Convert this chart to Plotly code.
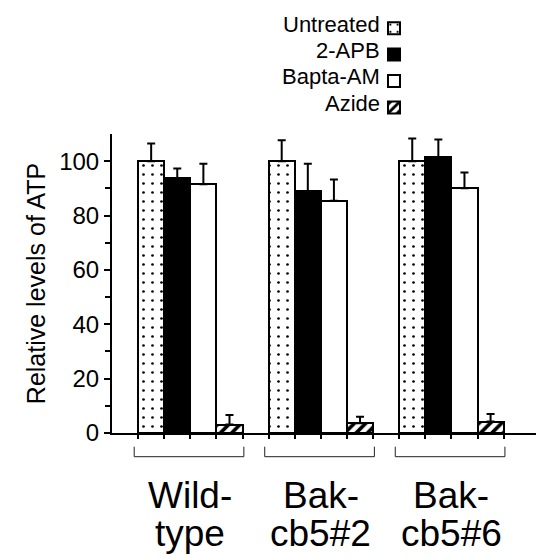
import plotly.graph_objects as go

# ---- data ----
groups = ["Wild-type", "Bak-cb5#2", "Bak-cb5#6"]
group_label_lines = [["Wild-", "type"], ["Bak-", "cb5#2"], ["Bak-", "cb5#6"]]
treatments = ["Untreated", "2-APB", "Bapta-AM", "Azide"]

untreated = [100, 100, 100]
untreated_err = [6.5, 7.7, 8.3]
apb = [93.7, 89.0, 101.4]
apb_err = [3.6, 10.1, 6.6]
bapta = [91.5, 85.4, 90.0]
bapta_err = [7.6, 7.9, 5.8]
azide = [3.1, 3.6, 4.2]
azide_err = [3.5, 2.4, 2.8]

y_ticks = [0, 20, 40, 60, 80, 100]
y_minor = [10, 30, 50, 70, 90]

values = [untreated, apb, bapta, azide]
errors = [untreated_err, apb_err, bapta_err, azide_err]

FONT = "Liberation Sans, Arial, Helvetica, sans-serif"
SLOTS = len(treatments) + 1  # one empty slot between groups

styles = [
    dict(color="white", pattern=dict(shape=".", fgcolor="black", bgcolor="white", fgopacity=1,
                                     size=9, solidity=0.07, fillmode="overlay")),
    dict(color="black"),
    dict(color="white"),
    dict(color="white", pattern=dict(shape="/", fgcolor="black", bgcolor="white", fgopacity=1,
                                     size=8, solidity=0.45, fillmode="overlay")),
]

fig = go.Figure()
for k, name in enumerate(treatments):
    xs = [SLOTS * g + k for g in range(len(groups))]
    marker = dict(line=dict(color="black", width=2), **styles[k])
    fig.add_trace(go.Bar(
        x=xs, y=values[k], name="", legendgroup=name,
        width=1, marker=marker,
        error_y=dict(type="data", array=errors[k], arrayminus=[0] * len(groups),
                     symmetric=False, color="black", thickness=2, width=4),
        showlegend=True, hoverinfo="skip",
    ))

n_slots_total = SLOTS * len(groups) - 1
x_edges = [i - 0.5 for i in range(n_slots_total + 1)]

# plot geometry (px)
L, R, T, B = 112, 0, 134, 127
W, H = 536, 560
pw, ph = W - L - R, H - T - B

def py(p):  # pixel y -> paper y
    return (H - B - p) / ph

def px(p):  # pixel x -> paper x
    return (p - L) / pw

fig.update_layout(
    width=W, height=H,
    margin=dict(l=L, r=R, t=T, b=B, autoexpand=False),
    paper_bgcolor="white", plot_bgcolor="white",
    barmode="overlay", bargap=0,
    font=dict(family=FONT, color="black"),
    showlegend=True,
    legend=dict(x=px(374), y=py(10), xanchor="left", yanchor="top",
                bgcolor="rgba(0,0,0,0)", font=dict(size=18, family=FONT),
                tracegroupgap=0, itemclick=False, itemdoubleclick=False),
    xaxis=dict(range=[-1.5, n_slots_total + 0.74], showline=True, linecolor="black", linewidth=2,
               tickvals=x_edges, ticks="outside", ticklen=4, tickwidth=1.5, tickcolor="black",
               showticklabels=False, showgrid=False, zeroline=False, fixedrange=True),
    yaxis=dict(range=[0, 110], showline=True, linecolor="black", linewidth=2,
               tickvals=y_ticks, ticks="outside", ticklen=6, tickwidth=1.5, tickcolor="black",
               tickfont=dict(size=24, family=FONT),
               minor=dict(tickvals=y_minor, ticks="outside", ticklen=5, tickwidth=1.5, tickcolor="black"),
               showgrid=False, zeroline=False, fixedrange=True,
               title=dict(text="Relative levels of ATP", font=dict(size=25, family=FONT), standoff=6)),
)

# legend labels (right-aligned, left of the swatches)
legend_rows = [24, 50.5, 77, 103.5]
for name, yy in zip(treatments, legend_rows):
    fig.add_annotation(text=name, xref="paper", yref="paper", x=px(382), y=py(yy),
                       xanchor="right", yanchor="middle", showarrow=False,
                       font=dict(size=22, family=FONT))

# group brackets and labels
for g, lines in enumerate(group_label_lines):
    x0 = SLOTS * g - 0.5 - 0.15
    x1 = SLOTS * g + len(treatments) - 0.5 + 0.05
    fig.add_shape(type="path", xref="x", yref="paper",
                  path=f"M {x0},{py(446.7)} L {x0},{py(456.7)} L {x1},{py(456.7)} L {x1},{py(446.7)}",
                  line=dict(color="#222", width=1))
    cx = SLOTS * g + (len(treatments) - 1) / 2
    for i, (txt, yy) in enumerate(zip(lines, [495, 533])):
        fig.add_annotation(text=txt, xref="x", yref="paper", x=cx, y=py(yy),
                           xanchor="center", yanchor="middle", showarrow=False,
                           font=dict(size=37, family=FONT))

fig.write_html("out.html", config={"displayModeBar": False},
               post_script="document.body.style.margin='0px';")
